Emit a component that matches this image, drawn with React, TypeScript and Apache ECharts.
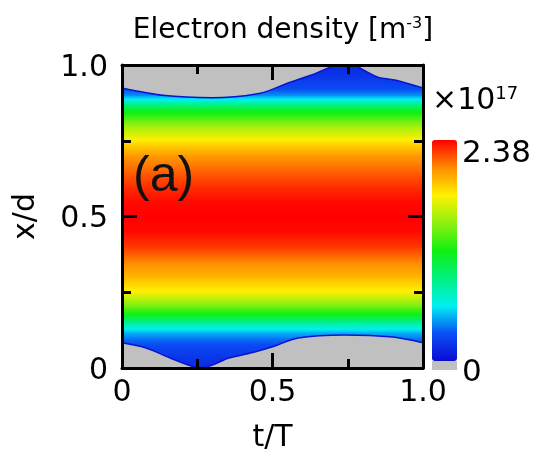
import React, { useEffect, useRef } from "react";
import * as echarts from "echarts";

// density profile across the gap (x/d) in units of 1e17 m^-3
const xdProfile = [0, 0.04, 0.08, 0.1, 0.12, 0.14, 0.16, 0.18, 0.2, 0.25, 0.3, 0.35, 0.4, 0.45, 0.5, 0.55, 0.6, 0.65, 0.7, 0.75, 0.8, 0.82, 0.84, 0.86, 0.88, 0.9, 0.92, 0.96, 1.0];
const density = [0.14, 0.19, 0.29, 0.38, 0.5, 0.71, 0.95, 1.19, 1.38, 1.76, 1.95, 2.09, 2.26, 2.36, 2.38, 2.36, 2.28, 2.17, 2.05, 1.81, 1.52, 1.38, 1.21, 1.05, 0.71, 0.43, 0.29, 0.19, 0.14];

// sheath edges (x/d) vs t/T
const tTop = [0, 0.135, 0.3, 0.46, 0.55, 0.63, 0.7, 0.74, 0.77, 0.8, 0.85, 0.91, 1.0];
const xdTop = [0.924, 0.9, 0.892, 0.907, 0.94, 0.967, 0.995, 1.0, 1.0, 0.985, 0.96, 0.95, 0.924];
const tBot = [0, 0.08, 0.16, 0.22, 0.26, 0.3, 0.355, 0.43, 0.5, 0.585, 0.74, 0.9, 1.0];
const xdBot = [0.083, 0.066, 0.033, 0.01, 0.0, 0.01, 0.033, 0.05, 0.07, 0.099, 0.109, 0.102, 0.083];

const tickLabels = ["0", "0.5", "1.0"];
const densMin = 0;
const densMax = 2.38;

const colorStops = ["#0a0ad2", "#0a50f5", "#00f0f0", "#00f080", "#10f010", "#90f010", "#fff000", "#ff8c00", "#ff0000"];
const sheathGray = "#c0c0c0";
const FONT = "DejaVu Sans";

function hexToRgb(h: string) {
  return [parseInt(h.slice(1, 3), 16), parseInt(h.slice(3, 5), 16), parseInt(h.slice(5, 7), 16)];
}
function colorAt(v: number) {
  const f = Math.max(0, Math.min(1, (v - densMin) / (densMax - densMin)));
  const n = colorStops.length - 1;
  const p = f * n;
  const i = Math.min(n - 1, Math.floor(p));
  const r = p - i;
  const a = hexToRgb(colorStops[i]);
  const b = hexToRgb(colorStops[i + 1]);
  const c = a.map((x, k) => Math.round(x + (b[k] - x) * r));
  return `rgb(${c[0]},${c[1]},${c[2]})`;
}

export default function App() {
  const ref = useRef<HTMLDivElement>(null);
  useEffect(() => {
    if (!ref.current) return;
    const chart = echarts.init(ref.current, null, { renderer: "svg" });

    const bandData = xdProfile.slice(0, -1).map((y, i) => [y, xdProfile[i + 1], density[i], density[i + 1]]);

    const axisCommon: any = {
      type: "value",
      min: 0,
      max: 1,
      interval: 0.5,
      z: 10,
      axisLine: { show: true, onZero: false, lineStyle: { color: "#000", width: 3 } },
      axisTick: { show: true, inside: true, length: 15, lineStyle: { color: "#000", width: 3 } },
      minorTick: { show: true, splitNumber: 2, length: 9, lineStyle: { color: "#000", width: 3 } },
      splitLine: { show: false },
      minorSplitLine: { show: false },
    };
    const fmt = (v: number) => tickLabels[Math.round(v / 0.5)];

    chart.setOption({
      animation: false,
      grid: { left: 119, top: 65, width: 304, height: 303, containLabel: false },
      xAxis: [
        {
          ...axisCommon,
          position: "bottom",
          name: "t/T",
          nameLocation: "middle",
          nameGap: 52,
          nameTextStyle: { fontFamily: FONT, fontSize: 30, color: "#000" },
          axisLabel: { show: true, margin: 7, fontFamily: FONT, fontSize: 30, color: "#000", formatter: fmt },
        },
        { ...axisCommon, position: "top", axisLabel: { show: false } },
      ],
      yAxis: [
        {
          ...axisCommon,
          position: "left",
          name: "x/d",
          nameLocation: "middle",
          nameGap: 84,
          nameTextStyle: { fontFamily: FONT, fontSize: 30, color: "#000" },
          axisLabel: { show: true, margin: 14, fontFamily: FONT, fontSize: 30, color: "#000", formatter: fmt },
        },
        { ...axisCommon, position: "right", axisLabel: { show: false } },
      ],
      visualMap: {
        type: "continuous",
        seriesIndex: 0,
        dimension: 2,
        min: densMin,
        max: densMax,
        calculable: false,
        hoverLink: false,
        orient: "vertical",
        left: 432,
        top: 140,
        itemWidth: 25,
        itemHeight: 221,
        padding: 0,
        text: null,
        inRange: { color: colorStops },
      },
      series: [
        {
          type: "custom",
          z: 1,
          silent: true,
          clip: true,
          data: bandData,
          renderItem: (params: any, api: any) => {
            const y0 = api.value(0);
            const y1 = api.value(1);
            const v0 = api.value(2);
            const v1 = api.value(3);
            const pb = api.coord([0, y0]);
            const pt = api.coord([1, y1]);
            const stops = [];
            const N = 8;
            for (let k = 0; k <= N; k++) {
              const fr = k / N;
              stops.push({ offset: fr, color: colorAt(v1 + (v0 - v1) * fr) });
            }
            return {
              type: "rect",
              shape: { x: pb[0], y: pt[1], width: pt[0] - pb[0], height: pb[1] - pt[1] + 0.8 },
              style: { fill: new echarts.graphic.LinearGradient(0, 0, 0, 1, stops) },
            };
          },
        },
        {
          type: "line",
          z: 3,
          silent: true,
          data: tTop.map((t, i) => [t, xdTop[i]]),
          smooth: 0.3,
          symbol: "none",
          lineStyle: { color: "#0a14d0", width: 1.5 },
          areaStyle: { origin: "end", color: sheathGray, opacity: 1 },
        },
        {
          type: "line",
          z: 3,
          silent: true,
          data: tBot.map((t, i) => [t, xdBot[i]]),
          smooth: 0.3,
          symbol: "none",
          lineStyle: { color: "#0a14d0", width: 1.5 },
          areaStyle: { origin: "start", color: sheathGray, opacity: 1 },
        },
      ],
      graphic: [
        {
          type: "text",
          x: 283,
          y: 28,
          style: {
            text: "Electron density [m{sup|-3}]",
            fontFamily: FONT,
            fontSize: 28,
            fill: "#000",
            align: "center",
            verticalAlign: "middle",
            rich: { sup: { fontFamily: FONT, fontSize: 16, verticalAlign: "top", fill: "#000" } },
          },
        },
        {
          type: "text",
          x: 133,
          y: 174,
          z: 20,
          style: { text: "(a)", fontFamily: "Liberation Sans", fontSize: 50, fill: "#111", align: "left", verticalAlign: "middle" },
        },
        {
          type: "text",
          x: 432,
          y: 98,
          style: {
            text: "×10{sup|17}",
            fontFamily: FONT,
            fontSize: 30,
            fill: "#000",
            align: "left",
            verticalAlign: "middle",
            rich: { sup: { fontFamily: FONT, fontSize: 18, verticalAlign: "top", fill: "#000" } },
          },
        },
        {
          type: "text",
          x: 462,
          y: 151,
          style: { text: densMax.toFixed(2), fontFamily: FONT, fontSize: 31, fill: "#000", align: "left", verticalAlign: "middle" },
        },
        {
          type: "text",
          x: 462,
          y: 370,
          style: { text: String(densMin), fontFamily: FONT, fontSize: 31, fill: "#000", align: "left", verticalAlign: "middle" },
        },
        {
          type: "rect",
          shape: { x: 432, y: 361, width: 25, height: 9 },
          style: { fill: sheathGray },
        },
      ],
    });
    return () => chart.dispose();
  }, []);
  return <div ref={ref} style={{ position: "fixed", left: 0, top: 0, width: 541, height: 456 }} />;
}
